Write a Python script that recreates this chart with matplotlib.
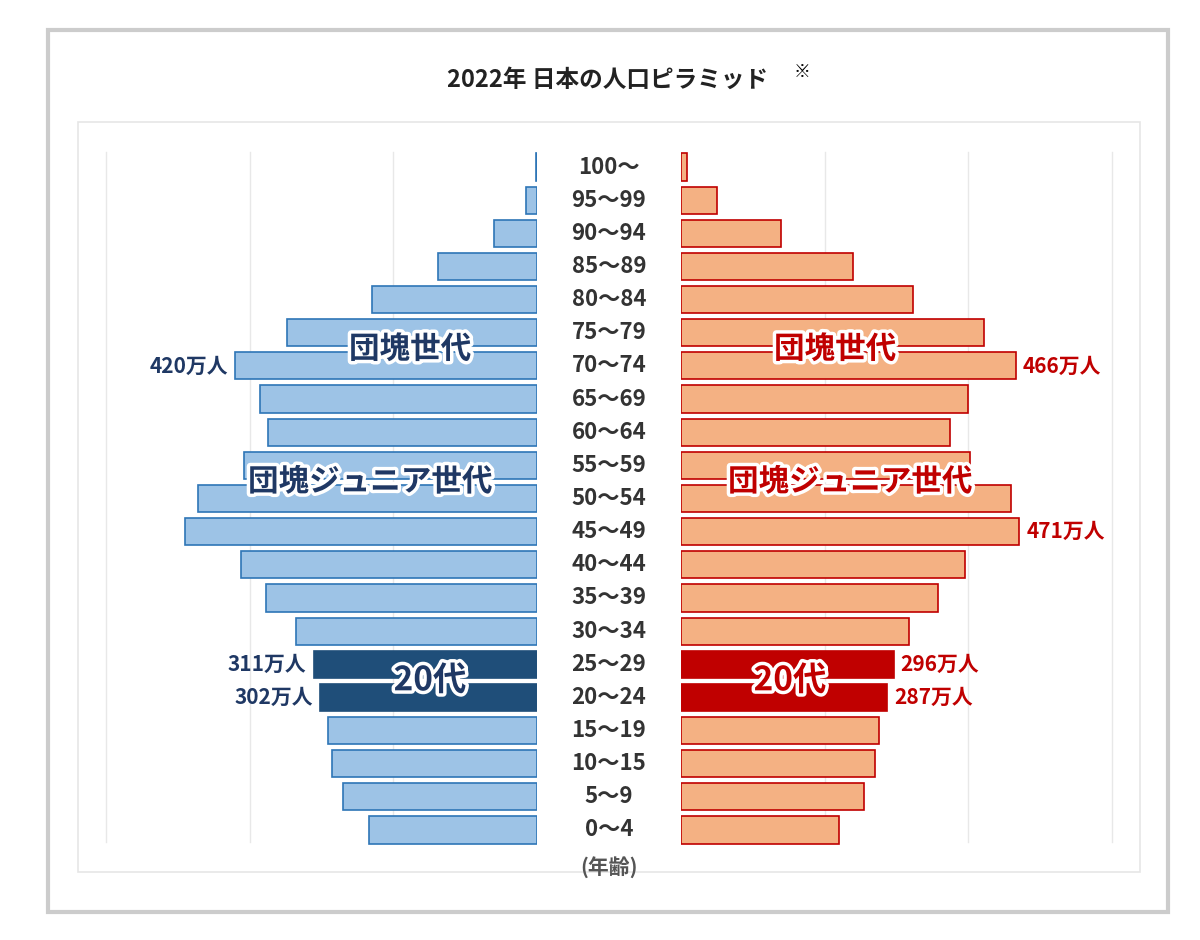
import numpy as np
import matplotlib.pyplot as plt
import matplotlib.patheffects as pe
from matplotlib.patches import Rectangle

plt.rcParams['font.family'] = ['Noto Sans CJK JP', 'DejaVu Sans']

ages = ["0～4", "5～9", "10～15", "15～19", "20～24", "25～29", "30～34", "35～39",
        "40～44", "45～49", "50～54", "55～59", "60～64", "65～69", "70～74",
        "75～79", "80～84", "85～89", "90～94", "95～99", "100～"]
male = [234, 270, 285, 291, 302, 311, 336, 377, 412, 490, 472, 408, 375, 386,
        420, 348, 230, 138, 60, 15, 2]
female = [220, 255, 270, 276, 287, 296, 318, 358, 396, 471, 460, 402, 375, 400,
          466, 422, 323, 240, 139, 50, 8]

W, H = 1200, 940
fig = plt.figure(figsize=(12, 9.4), dpi=100)

def fx(px):
    return px / W

def fy(py):
    return 1 - py / H

# outer frame and plot box
fig.patches.append(Rectangle((fx(48), fy(912)), fx(1168 - 48), (912 - 30) / H,
                             transform=fig.transFigure, fill=False, ec="#cccccc", lw=3))
fig.patches.append(Rectangle((fx(78), fy(872)), fx(1140 - 78), (872 - 122) / H,
                             transform=fig.transFigure, fill=False, ec="#e6e6e6", lw=1.2))

top_px, bot_px = 122, 872
row_px = (830 - 167) / 20
ylim = (-(bot_px - 830) / row_px, 20 + (167 - top_px) / row_px)
y = np.arange(len(ages))
scale = 0.718  # px per 万人
xmax = (537 - 78) / scale

axl = fig.add_axes([fx(78), fy(bot_px), fx(537 - 78), (bot_px - top_px) / H])
axr = fig.add_axes([fx(681), fy(bot_px), fx(1140 - 681), (bot_px - top_px) / H])

mc = ["#1f4e79" if a in ("20～24", "25～29") else "#9dc3e6" for a in ages]
me = ["#1f4e79" if a in ("20～24", "25～29") else "#2e75b6" for a in ages]
fc = ["#c00000" if a in ("20～24", "25～29") else "#f4b183" for a in ages]
axl.barh(y, male, height=0.82, color=mc, edgecolor=me, lw=1.2, zorder=3)
axr.barh(y, female, height=0.82, color=fc, edgecolor="#c00000", lw=1.2, zorder=3)

for ax in (axl, axr):
    ax.set_ylim(*ylim)
    ax.set_xlim(0, xmax)
    for g in (200, 400, 600):
        ax.axvline(g, color="#e8e8e8", lw=1, zorder=1, ymin=0.04, ymax=0.96)
    ax.axis("off")
axl.invert_xaxis()

for i, a in enumerate(ages):
    fig.text(fx(609), fy(830 - i * row_px), a, ha="center", va="center",
             fontsize=16, color="#333333", fontweight="bold")
fig.text(fx(609), fy(868), "(年齢)", ha="center", va="center", fontsize=15,
         color="#555555", fontweight="bold")

fig.text(fx(608), fy(80), "2022年 日本の人口ピラミッド", ha="center", va="center",
         fontsize=17, fontweight="bold", color="#222222")
fig.text(fx(794), fy(72), "※", ha="left", va="center", fontsize=12, fontweight="bold")

navy, red = "#1f3864", "#c00000"
outline = [pe.withStroke(linewidth=5, foreground="white")]

def label(ax, x, row, s, color, size, ha="center", stroke=True):
    ax.text(x, row, s, ha=ha, va="center", fontsize=size, fontweight="bold",
            color=color, zorder=5, path_effects=outline if stroke else None)

label(axl, (537 - 410) / scale, 14.5, "団塊世代", navy, 22)
label(axr, (835 - 681) / scale, 14.5, "団塊世代", red, 22)
label(axl, (537 - 370) / scale, 10.5, "団塊ジュニア世代", navy, 22)
label(axr, (850 - 681) / scale, 10.5, "団塊ジュニア世代", red, 22)
label(axl, (537 - 430) / scale, 4.5, "20代", navy, 24)
label(axr, (790 - 681) / scale, 4.5, "20代", red, 24)

for ax, col, vals, side in ((axl, navy, male, -1), (axr, red, female, 1)):
    for row in (4, 5, 9, 14):
        v = vals[row]
        if ax is axl and row == 9:
            continue
        ax.text(v + 10, row, f"{v}万人", ha="right" if side < 0 else "left",
                va="center", fontsize=15, fontweight="bold", color=col, zorder=5)

fig.savefig("out.png", dpi=100, facecolor="white")
